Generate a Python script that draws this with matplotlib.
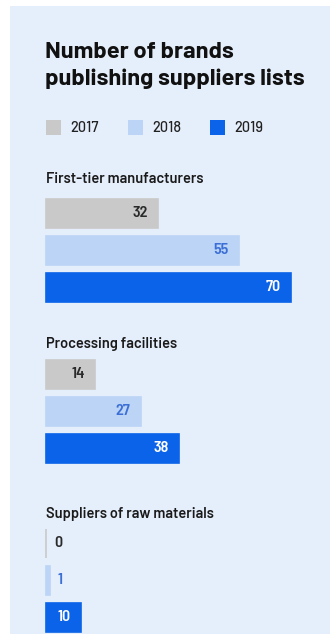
import matplotlib
matplotlib.use('Agg')
from matplotlib import pyplot as plt
from matplotlib.patches import Rectangle
from matplotlib.transforms import Affine2D

# Data
title_lines = ['Number of brands', 'publishing suppliers lists']
years = ['2017', '2018', '2019']
groups = ['First-tier manufacturers', 'Processing facilities', 'Suppliers of raw materials']
v2017 = [32, 14, 0]
v2018 = [55, 27, 1]
v2019 = [70, 38, 10]

bar_colors = ['#c9c9c9', '#bcd4f6', '#0a63e8']
text_colors = ['#2a2a2a', '#3b6fd6', 'white']
bg = '#e5eefb'
fam = ['Barlow', 'DejaVu Sans']
fam_num = ['Barlow Semi Condensed', 'DejaVu Sans']

W, H = 330, 634
scale = 3.5       # px per brand
x0 = 46           # px, left edge of the bars
group_top = [213, 374, 543]   # px, centre of first bar of each group
step = 37
bar_h = 29

fig = plt.figure(figsize=(W / 100, H / 100), dpi=100)
fig.patch.set_facecolor('white')
fig.patches.append(Rectangle((10 / W, 0), 1, 1 - 6 / H, transform=fig.transFigure,
                             facecolor=bg, edgecolor='none', zorder=-1))

# pixel coordinates, origin top-left
tpx = Affine2D().scale(1 / W, -1 / H).translate(0, 1) + fig.transFigure

ax = fig.add_axes([0, 0, 1, 1])
ax.set_facecolor('none')
ax.axis('off')
ax.set_xlim(-x0 / scale, (W - x0) / scale)
ax.set_ylim(H, 0)

# Title
fig.text(45, 58, title_lines[0], transform=tpx, fontsize=17, fontweight='bold',
         family=fam, color='#111111', va='baseline')
fig.text(45, 85, title_lines[1], transform=tpx, fontsize=17, fontweight='bold',
         family=fam, color='#111111', va='baseline')

# Legend
for i, (yr, lx) in enumerate(zip(years, [46, 128, 210])):
    fig.patches.append(Rectangle((lx, 120), 15, 15, transform=tpx,
                                 facecolor=bar_colors[i], edgecolor='none'))
    fig.text(lx + 24, 127.5, yr, transform=tpx, fontsize=10.5, family=fam,
             fontweight='medium', color='#222222', va='center')

# Bars
series = [v2017, v2018, v2019]
label_y = [183, 348, 518]
for g, name in enumerate(groups):
    fig.text(46, label_y[g], name, transform=tpx, fontsize=10.5, fontweight='semibold',
             family=fam, color='#1a1a1a', va='baseline')
    for i in range(3):
        v = series[i][g]
        yc = group_top[g] + i * step
        ax.barh(yc, v, height=bar_h, color=bar_colors[i],
                edgecolor=bar_colors[i], linewidth=1.2)
        if v >= 5:
            ax.text(v - 10 / scale, yc, str(v), ha='right', va='center', fontsize=11.5,
                    fontweight='semibold', family=fam_num, color=text_colors[i])
        else:
            ax.text(v + 8 / scale, yc, str(v), ha='left', va='center', fontsize=11.5,
                    fontweight='semibold', family=fam_num,
                    color=text_colors[i] if i < 2 else '#2a2a2a')

fig.savefig('out.png', dpi=100, facecolor=fig.get_facecolor())
